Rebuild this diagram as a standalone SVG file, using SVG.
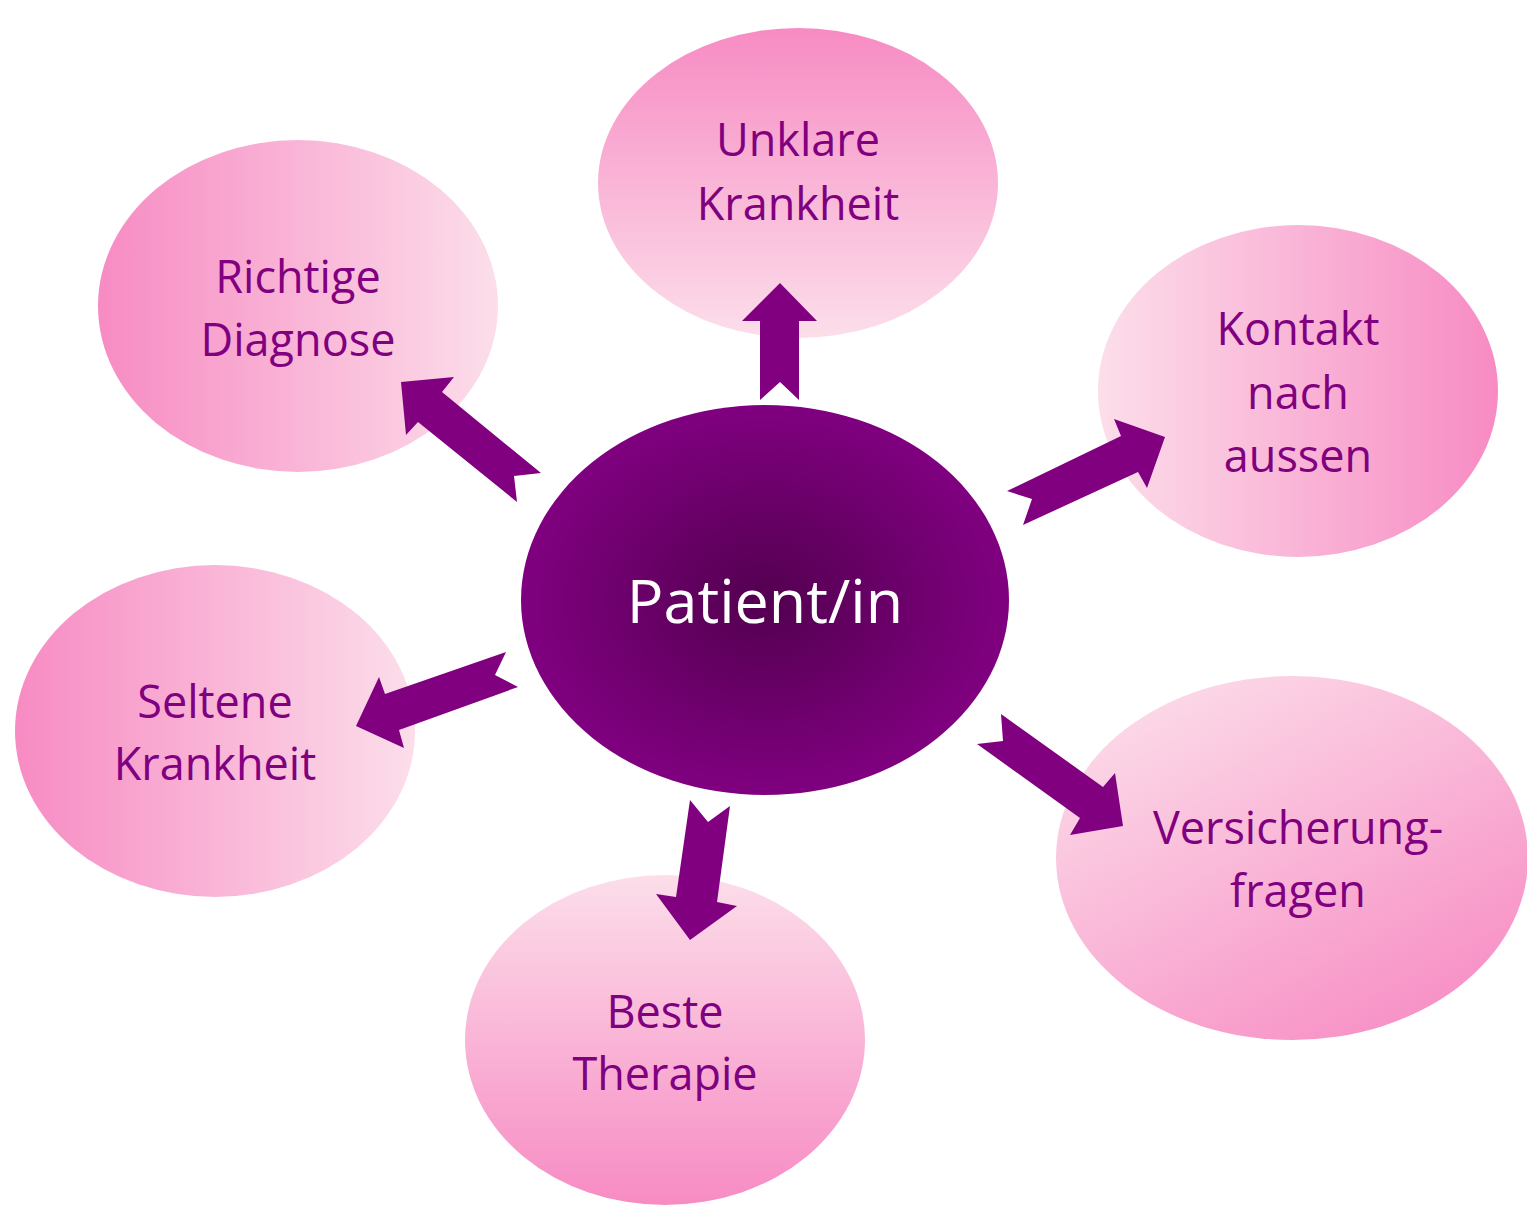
<svg xmlns="http://www.w3.org/2000/svg" width="1527" height="1205" viewBox="0 0 1527 1205">
<defs>
<radialGradient id="gc" cx="0.5" cy="0.5" r="0.5">
<stop offset="0" stop-color="#530050"/>
<stop offset="1" stop-color="#800080"/>
</radialGradient>
<linearGradient id="gUp" x1="0" y1="0" x2="0" y2="1">
<stop offset="0" stop-color="#f78bc3"/>
<stop offset="1" stop-color="#fcdeea"/>
</linearGradient>
<linearGradient id="gDown" x1="0" y1="0" x2="0" y2="1">
<stop offset="0" stop-color="#fcdeea"/>
<stop offset="1" stop-color="#f78bc3"/>
</linearGradient>
<linearGradient id="gLeft" x1="0" y1="0" x2="1" y2="0">
<stop offset="0" stop-color="#f78bc3"/>
<stop offset="1" stop-color="#fcdeea"/>
</linearGradient>
<linearGradient id="gRight" x1="0" y1="0" x2="1" y2="0">
<stop offset="0" stop-color="#fcdeea"/>
<stop offset="1" stop-color="#f78bc3"/>
</linearGradient>
<linearGradient id="gDiag" x1="0.15" y1="0" x2="0.85" y2="1">
<stop offset="0" stop-color="#fcdeea"/>
<stop offset="1" stop-color="#f78bc3"/>
</linearGradient>
</defs>
<style>
.lbl{font-family:"Open Sans","Liberation Sans",sans-serif;font-size:45px;fill:#800080;text-anchor:middle}
.ctr{font-family:"Open Sans","Liberation Sans",sans-serif;font-size:61px;fill:#ffffff;text-anchor:middle}
.arr{fill:#800080}
</style>
<g id="node-unklare">
<ellipse cx="798" cy="183" rx="200" ry="155" fill="url(#gUp)"/>
<text class="lbl" x="798" y="156">Unklare</text>
<text class="lbl" x="798" y="220">Krankheit</text>
</g>
<g id="node-richtige">
<ellipse cx="298" cy="306" rx="200" ry="166" fill="url(#gLeft)"/>
<text class="lbl" x="298" y="293">Richtige</text>
<text class="lbl" x="298" y="356">Diagnose</text>
</g>
<g id="node-kontakt">
<ellipse cx="1298" cy="391" rx="200" ry="166" fill="url(#gRight)"/>
<text class="lbl" x="1298" y="345">Kontakt</text>
<text class="lbl" x="1298" y="409">nach</text>
<text class="lbl" x="1298" y="472">aussen</text>
</g>
<g id="node-seltene">
<ellipse cx="215" cy="731" rx="200" ry="166" fill="url(#gLeft)"/>
<text class="lbl" x="215" y="718">Seltene</text>
<text class="lbl" x="215" y="780">Krankheit</text>
</g>
<g id="node-beste">
<ellipse cx="665" cy="1040" rx="200" ry="165" fill="url(#gDown)"/>
<text class="lbl" x="665" y="1028">Beste</text>
<text class="lbl" x="665" y="1090">Therapie</text>
</g>
<g id="node-versicherung">
<ellipse cx="1292" cy="858" rx="236" ry="182" fill="url(#gDiag)"/>
<text class="lbl" x="1298" y="844">Versicherung-</text>
<text class="lbl" x="1298" y="907">fragen</text>
</g>
<g id="connectors">
<polygon class="arr" points="780,283 817,321 799,321 799,400 780,382 760,400 760,321 742,321"/>
<polygon class="arr" points="401,382 454,377 442,392 541,473 514,476 517,502 418,422 406,435"/>
<polygon class="arr" points="1165,437 1147,488 1138,472 1023,525 1032,499 1007,491 1121,436 1114,419"/>
<polygon class="arr" points="356,726 379,677 385,694 506,652 495,675 518,687 399,730 404,748"/>
<polygon class="arr" points="690,940 656,894 676,897 690,800 708,822 730,806 717,902 737,906"/>
<polygon class="arr" points="1123,826 1070,835 1080,818 977,744 1003,741 1001,714 1103,787 1115,773"/>
</g>
<g id="node-patient">
<ellipse cx="765" cy="600" rx="244" ry="195" fill="url(#gc)"/>
<text class="ctr" x="765" y="623">Patient/in</text>
</g>
</svg>
